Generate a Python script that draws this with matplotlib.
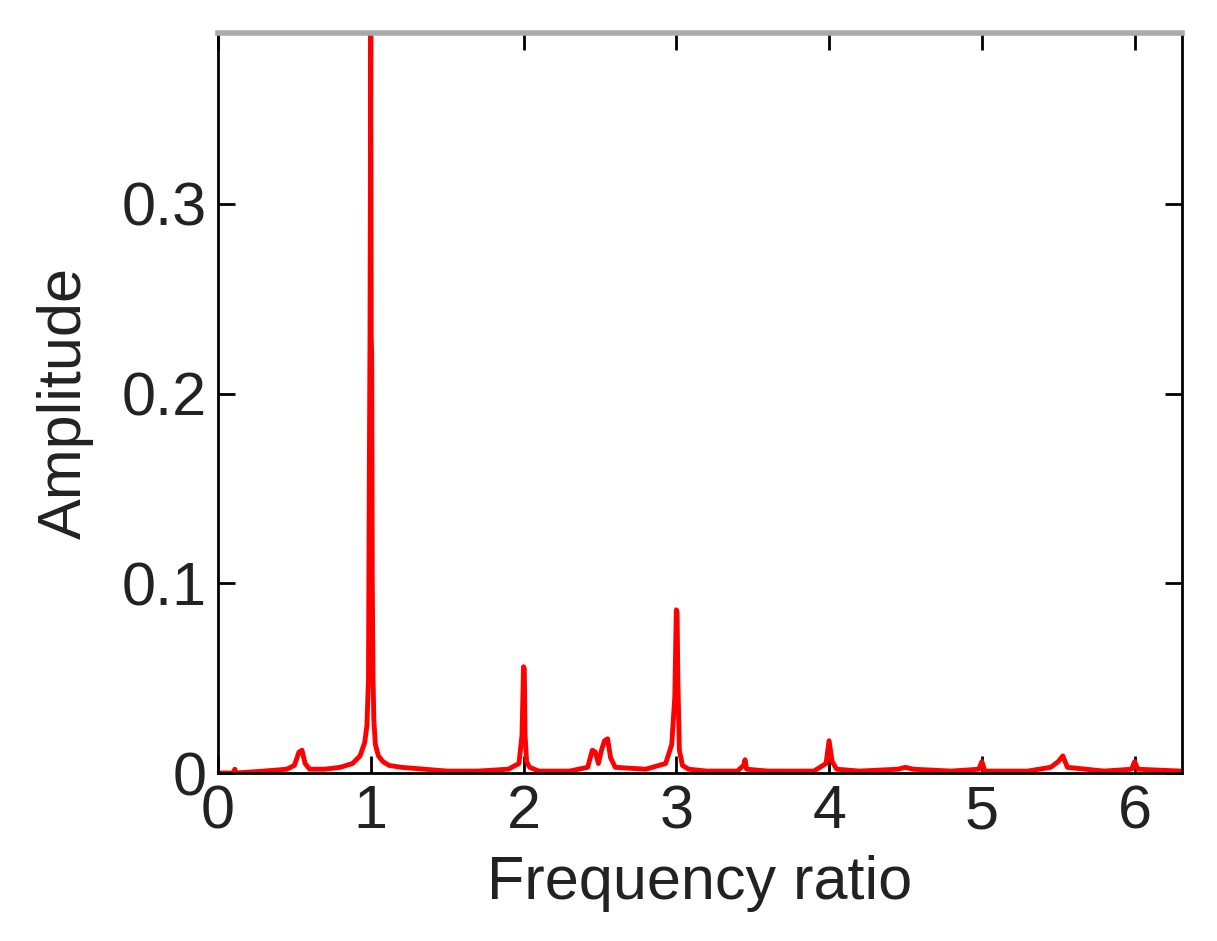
import matplotlib
matplotlib.use("Agg")
import matplotlib.pyplot as plt

freq = [0.0, 0.1, 0.11, 0.12, 0.3, 0.45, 0.5, 0.53, 0.55, 0.57, 0.6, 0.7, 0.8, 0.88, 0.93, 0.96, 0.975, 0.985, 0.99, 0.995, 1.0, 1.003, 1.006, 1.01, 1.015, 1.02, 1.03, 1.05, 1.08, 1.12, 1.2, 1.35, 1.5, 1.7, 1.9, 1.97, 1.99, 2.0, 2.005, 2.01, 2.02, 2.04, 2.1, 2.3, 2.42, 2.45, 2.47, 2.49, 2.51, 2.53, 2.55, 2.57, 2.6, 2.8, 2.93, 2.97, 2.99, 3.0, 3.005, 3.01, 3.02, 3.04, 3.08, 3.2, 3.4, 3.44, 3.45, 3.46, 3.6, 3.9, 3.98, 4.0, 4.02, 4.05, 4.2, 4.45, 4.5, 4.55, 4.8, 4.98, 5.0, 5.02, 5.3, 5.45, 5.5, 5.53, 5.56, 5.8, 5.98, 6.0, 6.02, 6.3]
amp = [0.0, 0.0, 0.002, 0.0, 0.001, 0.002, 0.004, 0.011, 0.012, 0.005, 0.002, 0.002, 0.003, 0.005, 0.009, 0.016, 0.025, 0.05, 0.15, 0.23, 0.39, 0.23, 0.22, 0.1, 0.05, 0.028, 0.015, 0.009, 0.006, 0.004, 0.003, 0.002, 0.001, 0.001, 0.002, 0.005, 0.02, 0.056, 0.055, 0.02, 0.006, 0.003, 0.001, 0.001, 0.003, 0.012, 0.011, 0.005, 0.012, 0.017, 0.018, 0.008, 0.003, 0.002, 0.005, 0.015, 0.04, 0.086, 0.085, 0.05, 0.012, 0.004, 0.002, 0.001, 0.001, 0.004, 0.007, 0.002, 0.001, 0.001, 0.005, 0.017, 0.006, 0.002, 0.001, 0.002, 0.003, 0.002, 0.001, 0.002, 0.006, 0.001, 0.001, 0.003, 0.006, 0.009, 0.003, 0.001, 0.002, 0.006, 0.002, 0.001]

xticks = [0, 1, 2, 3, 4, 5, 6]
yticks = [0, 0.1, 0.2, 0.3]
ylabels = ["0", "0.1", "0.2", "0.3"]

plt.rcParams['font.family'] = ['Liberation Sans', 'DejaVu Sans']
fig = plt.figure(figsize=(12.17, 9.41), dpi=100)
ax = fig.add_axes([218/1217, 1-773/941, (1182-218)/1217, (773-33)/941])
ax.plot(freq, amp, color='red', lw=3.5)
ax.set_xlim(0, 6.31)
ax.set_ylim(0, 0.39)
ax.set_xticks(xticks)
ax.set_yticks(yticks)
ax.set_yticklabels(ylabels)
ax.tick_params(direction='in', top=True, right=True, length=12, width=2, labelsize=44, pad=8, labelcolor='#222222')
for s in ax.spines.values():
    s.set_linewidth(2)
ax.spines['top'].set_color('#aaaaaa')
ax.spines['top'].set_linewidth(4)
ax.set_xlabel("Frequency ratio", fontsize=44, labelpad=10, color='#222222')
ax.set_ylabel("Amplitude", fontsize=44, labelpad=20, color='#222222')
fig.savefig("out.png", dpi=100)
